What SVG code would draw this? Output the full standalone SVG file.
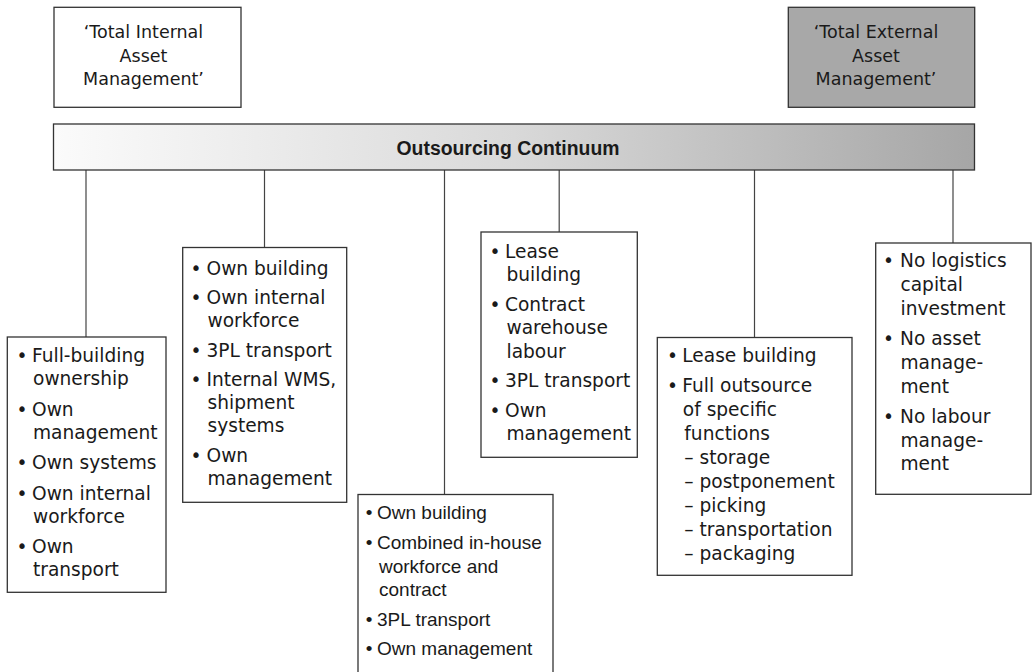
<svg xmlns="http://www.w3.org/2000/svg" width="1033" height="672" viewBox="0 0 1033 672">
<defs>
<linearGradient id="barGrad" x1="0" y1="0" x2="1" y2="0">
<stop offset="0" stop-color="#fbfbfb"/>
<stop offset="0.5" stop-color="#d9d9d9"/>
<stop offset="1" stop-color="#a6a6a6"/>
</linearGradient>
<style>
.box{fill:#ffffff;stroke:#333333;stroke-width:1.3}
.dark{fill:#a8a8a8;stroke:#333333;stroke-width:1.3}
.bar{fill:url(#barGrad);stroke:#333333;stroke-width:1.3}
.con{stroke:#444444;stroke-width:1.2;fill:none}
.hd{font-family:"DejaVu Sans","Liberation Sans",sans-serif;font-size:17.5px;fill:#1a1a1a;text-anchor:middle}
.t{font-family:"DejaVu Sans","Liberation Sans",sans-serif;font-size:18.6px;fill:#1a1a1a}
.t4{font-family:"Liberation Sans","DejaVu Sans",sans-serif;font-size:19px;fill:#1a1a1a}
.bl{text-anchor:middle}
.title{font-family:"Liberation Sans",Arial,sans-serif;font-size:19.4px;font-weight:bold;fill:#1a1a1a;text-anchor:middle}
</style>
</defs>
<rect width="1033" height="672" fill="#ffffff"/>

<g id="connectors">
<line class="con" x1="86" y1="170" x2="86" y2="337"/>
<line class="con" x1="264.5" y1="170" x2="264.5" y2="247.5"/>
<line class="con" x1="444.5" y1="170" x2="444.5" y2="494.5"/>
<line class="con" x1="559.2" y1="170" x2="559.2" y2="232"/>
<line class="con" x1="754.5" y1="170" x2="754.5" y2="337.5"/>
<line class="con" x1="953" y1="170" x2="953" y2="243"/>
</g>

<g id="internal">
<rect class="box" x="54" y="7.3" width="187" height="100"/>
<text class="hd" x="143.5" y="38">‘Total Internal</text>
<text class="hd" x="143.5" y="61.7">Asset</text>
<text class="hd" x="143.5" y="85.3">Management’</text>
</g>

<g id="external">
<rect class="dark" x="788.3" y="7.3" width="186.4" height="100"/>
<text class="hd" x="876" y="38">‘Total External</text>
<text class="hd" x="876" y="61.7">Asset</text>
<text class="hd" x="876" y="85.3">Management’</text>
</g>

<g id="continuum">
<rect class="bar" x="53.5" y="124" width="921" height="46"/>
<text class="title" x="508" y="155">Outsourcing Continuum</text>
</g>

<g id="box1">
<rect class="box" x="7.3" y="337" width="158.7" height="255.3"/>
<g class="t">
<text class="bl" x="22" y="362">•</text><text x="32" y="362">Full-building</text>
<text x="33" y="385">ownership</text>
<text class="bl" x="22" y="415.5">•</text><text x="32" y="415.5">Own</text>
<text x="33" y="438.5">management</text>
<text class="bl" x="22" y="469">•</text><text x="32" y="469">Own systems</text>
<text class="bl" x="22" y="499.5">•</text><text x="32" y="499.5">Own internal</text>
<text x="33" y="522.5">workforce</text>
<text class="bl" x="22" y="553">•</text><text x="32" y="553">Own</text>
<text x="33" y="576">transport</text>
</g>
</g>

<g id="box2">
<rect class="box" x="182.7" y="247.5" width="164" height="254.8"/>
<g class="t">
<text class="bl" x="196" y="274.5">•</text><text x="206.5" y="274.5">Own building</text>
<text class="bl" x="196" y="304">•</text><text x="206.5" y="304">Own internal</text>
<text x="207.5" y="327">workforce</text>
<text class="bl" x="196" y="356.5">•</text><text x="206.5" y="356.5">3PL transport</text>
<text class="bl" x="196" y="386">•</text><text x="206.5" y="386">Internal WMS,</text>
<text x="207.5" y="409">shipment</text>
<text x="207.5" y="432">systems</text>
<text class="bl" x="196" y="461.5">•</text><text x="206.5" y="461.5">Own</text>
<text x="207.5" y="484.5">management</text>
</g>
</g>

<g id="box3">
<rect class="box" x="481" y="232" width="156.3" height="225.3"/>
<g class="t">
<text class="bl" x="495" y="257.5">•</text><text x="505" y="257.5">Lease</text>
<text x="506.5" y="281">building</text>
<text class="bl" x="495" y="310.5">•</text><text x="505" y="310.5">Contract</text>
<text x="506.5" y="334">warehouse</text>
<text x="506.5" y="357.5">labour</text>
<text class="bl" x="495" y="387">•</text><text x="505" y="387">3PL transport</text>
<text class="bl" x="495" y="416.5">•</text><text x="505" y="416.5">Own</text>
<text x="506.5" y="440">management</text>
</g>
</g>

<g id="box4">
<rect class="box" x="358" y="494.5" width="195" height="190"/>
<g class="t4">
<text class="bl" x="369" y="519">•</text><text x="377" y="519">Own building</text>
<text class="bl" x="369" y="548.5">•</text><text x="377" y="548.5">Combined in-house</text>
<text x="379" y="572.5">workforce and</text>
<text x="379" y="596">contract</text>
<text class="bl" x="369" y="625.5">•</text><text x="377" y="625.5">3PL transport</text>
<text class="bl" x="369" y="654.5">•</text><text x="377" y="654.5">Own management</text>
</g>
</g>

<g id="box5">
<rect class="box" x="657.3" y="337.5" width="194.7" height="237.8"/>
<g class="t">
<text class="bl" x="672.5" y="362">•</text><text x="682.3" y="362">Lease building</text>
<text class="bl" x="672.5" y="391.5">•</text><text x="682.3" y="391.5">Full outsource</text>
<text x="682.8" y="415.5">of specific</text>
<text x="684.3" y="439.5">functions</text>
<text x="684.3" y="463.5">– storage</text>
<text x="684.3" y="487.5">– postponement</text>
<text x="684.3" y="511.5">– picking</text>
<text x="684.3" y="535.5">– transportation</text>
<text x="684.3" y="559.5">– packaging</text>
</g>
</g>

<g id="box6">
<rect class="box" x="875.7" y="243" width="155.3" height="251.3"/>
<g class="t">
<text class="bl" x="888.5" y="267">•</text><text x="900" y="267">No logistics</text>
<text x="900.5" y="291">capital</text>
<text x="900.5" y="315">investment</text>
<text class="bl" x="888.5" y="345">•</text><text x="900" y="345">No asset</text>
<text x="900.5" y="368.5">manage-</text>
<text x="900.5" y="392.5">ment</text>
<text class="bl" x="888.5" y="422.5">•</text><text x="900" y="422.5">No labour</text>
<text x="900.5" y="446.5">manage-</text>
<text x="900.5" y="470">ment</text>
</g>
</g>
</svg>
